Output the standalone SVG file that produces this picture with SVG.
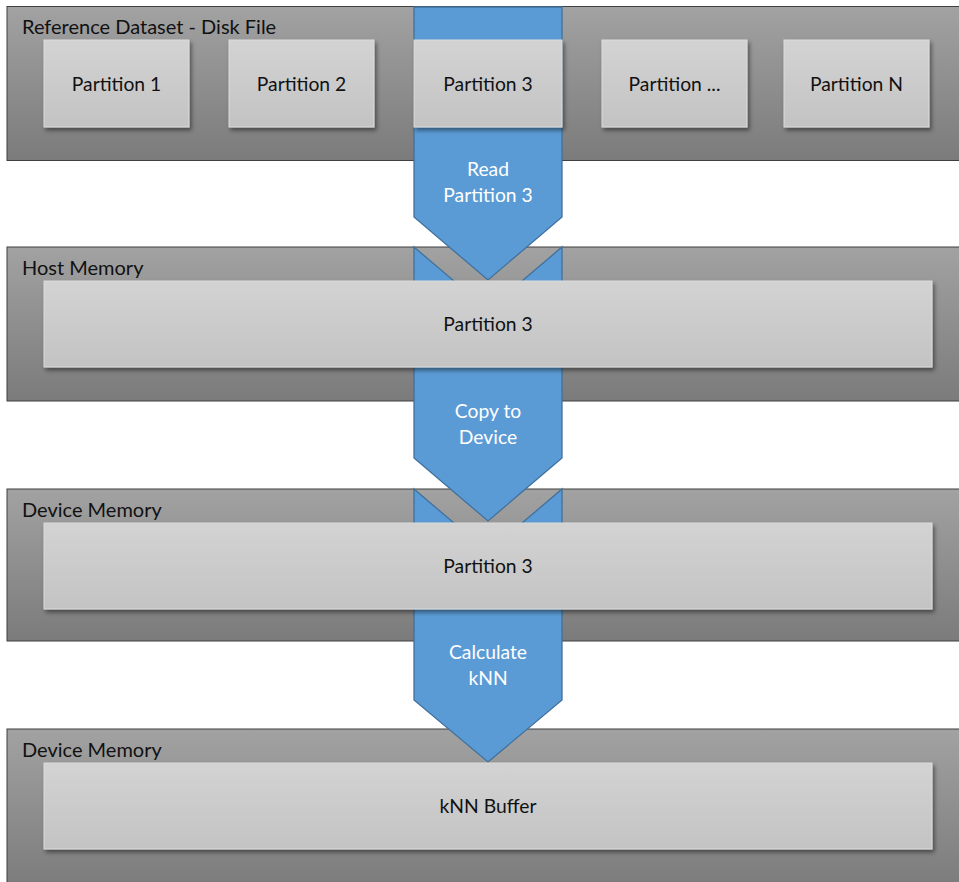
<svg xmlns="http://www.w3.org/2000/svg" width="959" height="882" viewBox="0 0 959 882">
<defs>
<linearGradient id="gPanel" x1="0" y1="0" x2="0" y2="1">
<stop offset="0" stop-color="#a2a2a2"/>
<stop offset="1" stop-color="#7b7b7b"/>
</linearGradient>
<linearGradient id="gBox" x1="0" y1="0" x2="0" y2="1">
<stop offset="0" stop-color="#d3d3d3"/>
<stop offset="1" stop-color="#c3c3c3"/>
</linearGradient>
<filter id="sh" x="-10%" y="-10%" width="130%" height="140%">
<feDropShadow dx="2" dy="3" stdDeviation="2" flood-color="#000" flood-opacity="0.45"/>
</filter>
</defs>
<style>
.panel{fill:url(#gPanel);stroke:#3f3f3f;stroke-width:1}
.box{fill:url(#gBox);stroke:#dcdcdc;stroke-width:1;filter:url(#sh)}
.arrow{fill:#5b9bd5;stroke:#41719c;stroke-width:1.3}
.lbl{font-family:Lato,"Open Sans","Liberation Sans",sans-serif;font-size:20px;fill:#111}
.t{font-family:Lato,"Open Sans","Liberation Sans",sans-serif;font-size:19.3px;fill:#111;text-anchor:middle}
.w{font-family:Lato,"Open Sans","Liberation Sans",sans-serif;font-size:19.3px;fill:#fff;text-anchor:middle}
</style>
<rect width="959" height="882" fill="#fff"/>
<g id="panel-disk"><rect class="panel" x="7" y="6.5" width="960" height="154"/><text class="lbl" x="22" y="34">Reference Dataset - Disk File</text></g>
<g id="panel-host"><rect class="panel" x="7" y="247" width="960" height="154"/><text class="lbl" x="22" y="275">Host Memory</text></g>
<g id="panel-device1"><rect class="panel" x="7" y="489" width="960" height="152"/><text class="lbl" x="22" y="517">Device Memory</text></g>
<g id="panel-device2"><rect class="panel" x="7" y="729" width="960" height="160"/><text class="lbl" x="22" y="757">Device Memory</text></g>
<g id="connectors">
<g id="arrow-read"><path class="arrow" d="M414,7 H562 V217 L488,280 L414,217 Z"/><text class="w" x="488" y="176">Read</text><text class="w" x="488" y="202">Partition 3</text></g>
<g id="arrow-copy"><path class="arrow" d="M414,247 L488,310 L562,247 V458 L488,521 L414,458 Z"/><text class="w" x="488" y="418">Copy to</text><text class="w" x="488" y="444">Device</text></g>
<g id="arrow-knn"><path class="arrow" d="M414,489 L488,552 L562,489 V700 L488,762 L414,700 Z"/><text class="w" x="488" y="659">Calculate</text><text class="w" x="488" y="685">kNN</text></g>
</g>
<g id="p1"><rect class="box" x="44" y="40" width="145" height="87"/><text class="t" x="116.5" y="91">Partition 1</text></g>
<g id="p2"><rect class="box" x="229" y="40" width="145" height="87"/><text class="t" x="301.5" y="91">Partition 2</text></g>
<g id="p3"><rect class="box" x="414" y="40" width="148" height="87"/><text class="t" x="488" y="91">Partition 3</text></g>
<g id="pdots"><rect class="box" x="602" y="40" width="145" height="87"/><text class="t" x="674.5" y="91">Partition ...</text></g>
<g id="pN"><rect class="box" x="784" y="40" width="145" height="87"/><text class="t" x="856.5" y="91">Partition N</text></g>
<g id="host-p3"><rect class="box" x="44" y="281" width="888" height="86"/><text class="t" x="488" y="331">Partition 3</text></g>
<g id="dev-p3"><rect class="box" x="44" y="523" width="888" height="86"/><text class="t" x="488" y="573">Partition 3</text></g>
<g id="knn-buf"><rect class="box" x="44" y="763" width="888" height="86"/><text class="t" x="488" y="813">kNN Buffer</text></g>
</svg>
